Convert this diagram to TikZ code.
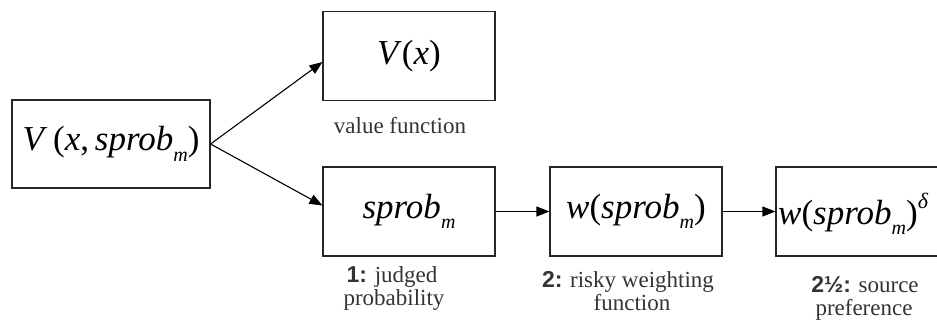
\documentclass[tikz,border=0pt]{standalone}
\usepackage{fontspec}
\setmainfont{Liberation Serif}
\newfontfamily\serif{Liberation Serif}
\newfontfamily\numfont{Liberation Sans}
\usetikzlibrary{arrows.meta,calc}
\newcommand{\sub}[1]{\raisebox{-0.3em}{\fontsize{20}{20}\selectfont\itshape #1}}
\newcommand{\sprobm}{\textit{sprob}\sub{m}}
\begin{document}
\begin{tikzpicture}[x=1pt,y=-1pt,
  box/.style={draw=black!85, line width=1.1pt, minimum width=172pt, minimum height=89pt, inner sep=0pt},
  mth/.style={font=\serif\fontsize{35}{38}\selectfont},
  lab/.style={font=\serif\fontsize{23}{23}\selectfont, align=center, text=black!80, inner sep=0pt, anchor=base},
  num/.style={},
  arr/.style={line width=1.1pt, -{Triangle[length=13pt,width=10pt]}}]
\clip (0,0) rectangle (937,327);
\useasboundingbox (0,0) rectangle (937,327);
\node[box, minimum width=198pt, minimum height=88pt, mth] (B1) at (111,144) {\textit{V}\,(\textit{x},\,\sprobm)};
\node[box, mth] (B2) at (409,56) {\textit{V}(\textit{x})\hspace{8pt}};
\node[box, mth] (B3) at (409,211.5) {\sprobm\hspace{6pt}};
\node[box, mth] (B4) at (636,211.5) {\textit{w}(\sprobm)};
\node[box, minimum width=180pt] (B5) at (866,211.5) {};
\node[mth, anchor=west, inner sep=0pt] (T5) at (778,214) {\textit{w}(\sprobm)\raisebox{0.45em}{\fontsize{22}{22}\selectfont\itshape δ}};
\node[lab] (L2) at (400,133) {value function};
\node[lab] (L3a) at (392,282) {{\numfont\bfseries 1:} judged};
\node[lab] (L3b) at (394,305) {probability};
\node[lab] (L4a) at (628,287) {{\numfont\bfseries 2:} risky weighting};
\node[lab] (L4b) at (632,310) {function};
\node[lab] (L5a) at (865,292) {{\numfont\bfseries 2½:} source};
\node[lab] (L5b) at (864,315) {preference};
\draw[arr] (B1.east) -- ($(B2.west)+(0,6)$);
\draw[arr] (B1.east) -- ($(B3.west)+(0,-6)$);
\draw[arr] (B3.east) -- (B4.west);
\draw[arr] (B4.east) -- (B5.west);
\end{tikzpicture}
\end{document}
